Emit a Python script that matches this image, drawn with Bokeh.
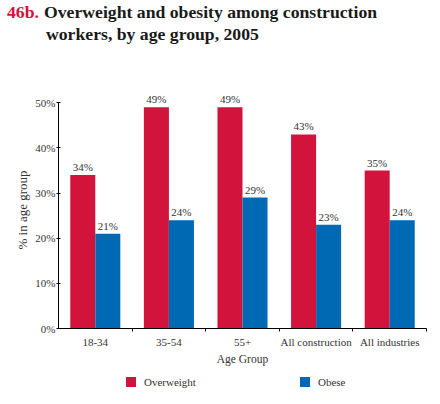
from bokeh.plotting import figure
from bokeh.models import (ColumnDataSource, Range1d, FixedTicker, PrintfTickFormatter, Div)
from bokeh.layouts import column
from bokeh.transform import dodge
from bokeh.core.properties import value
from bokeh.embed import file_html
from bokeh.resources import INLINE

categories = ["18-34", "35-54", "55+", "All construction", "All industries"]
overweight = [34, 49, 49, 43, 35]
obese = [21, 24, 29, 23, 24]
y_ticks = [0, 10, 20, 30, 40, 50]
series_names = ["Overweight", "Obese"]

RED = "#D2143C"
BLUE = "#0069B4"
FONT = "Liberation Serif"
CSS_FONT = "'Liberation Serif', 'DejaVu Serif', serif"

xs = [i + 0.5 for i in range(len(categories))]
src = ColumnDataSource(dict(
    x=xs, cat=categories, ow=overweight, ob=obese,
    ow_lbl=[f"{v}%" for v in overweight], ob_lbl=[f"{v}%" for v in obese],
))

W = 432
TITLE_H, FIG_H, LEG_H = 50, 317, 29

title = Div(width=W, height=TITLE_H, margin=0, text=(
    f'<div style="position:relative;width:{W}px;height:{TITLE_H}px;font-family:{CSS_FONT};'
    'font-weight:bold;font-size:17.7px;line-height:22px;color:#1a1a1a;white-space:nowrap;">'
    f'<div style="position:absolute;left:7px;top:1px;color:{RED};">46b.</div>'
    '<div style="position:absolute;left:44px;top:1px;">Overweight and obesity among construction</div>'
    '<div style="position:absolute;left:46px;top:23px;">workers, by age group, 2005</div>'
    '</div>'))

p = figure(width=W, height=FIG_H, output_backend="svg", toolbar_location=None,
           x_range=Range1d(0, len(categories)), y_range=Range1d(0, 52.5),
           min_border_left=58, min_border_right=6, min_border_top=41, min_border_bottom=38,
           margin=0)
p.outline_line_color = None
p.grid.visible = False
p.background_fill_color = "white"
p.border_fill_color = "white"

bw = 0.34
p.vbar(x=dodge("x", -bw / 2), top="ow", width=bw, source=src, color=RED, line_color=None)
p.vbar(x=dodge("x", bw / 2), top="ob", width=bw, source=src, color=BLUE, line_color=None)

lbl_style = dict(text_font=value(FONT), text_font_size="11px", text_color="#333333",
                 text_align="center", text_baseline="bottom", y_offset=-2)
p.text(x=dodge("x", -bw / 2), y="ow", text="ow_lbl", source=src, **lbl_style)
p.text(x=dodge("x", bw / 2), y="ob", text="ob_lbl", source=src, **lbl_style)

xa = p.xaxis[0]
xa.ticker = FixedTicker(ticks=xs, minor_ticks=list(range(1, len(categories) + 1)))
xa.major_label_overrides = {x: c for x, c in zip(xs, categories)}
xa.major_tick_out = 0
xa.major_tick_in = 0
xa.minor_tick_out = 3
xa.minor_tick_in = 0
xa.minor_tick_line_color = "black"
xa.axis_line_color = "black"
xa.major_label_standoff = 4
xa.axis_label = "Age Group"
xa.axis_label_standoff = 2
xa.axis_label_text_font_size = "11.5px"

ya = p.yaxis[0]
ya.ticker = FixedTicker(ticks=y_ticks, minor_ticks=[])
ya.formatter = PrintfTickFormatter(format="%d%%")
ya.bounds = (0, 50)
ya.major_tick_out = 2
ya.major_tick_in = 2
ya.axis_line_color = "black"
ya.major_label_standoff = 1
ya.axis_label = "% in age group"
ya.axis_label_standoff = 2
ya.axis_label_text_font_size = "13px"

for ax in (xa, ya):
    ax.major_label_text_font = FONT
    ax.major_label_text_font_size = "11px"
    ax.major_label_text_color = "#333333"
    ax.axis_label_text_font = FONT
    ax.axis_label_text_font_style = "normal"
    ax.axis_label_text_color = "#333333"
    ax.major_tick_line_color = "black"

def legend_entry(left, color, name):
    return (f'<div style="position:absolute;left:{left}px;top:10px;width:10px;height:10px;'
            f'background:{color};"></div>'
            f'<div style="position:absolute;left:{left + 18}px;top:7px;line-height:16px;">{name}</div>')

legend = Div(width=W, height=LEG_H, margin=0, text=(
    f'<div style="position:relative;width:{W}px;height:{LEG_H}px;font-family:{CSS_FONT};'
    'font-size:11px;color:#333333;white-space:nowrap;">'
    + legend_entry(126, RED, series_names[0]) + legend_entry(300, BLUE, series_names[1]) +
    '</div>'))

layout = column(title, p, legend, spacing=0, margin=0)
open("out.html", "w").write(file_html(layout, INLINE))
